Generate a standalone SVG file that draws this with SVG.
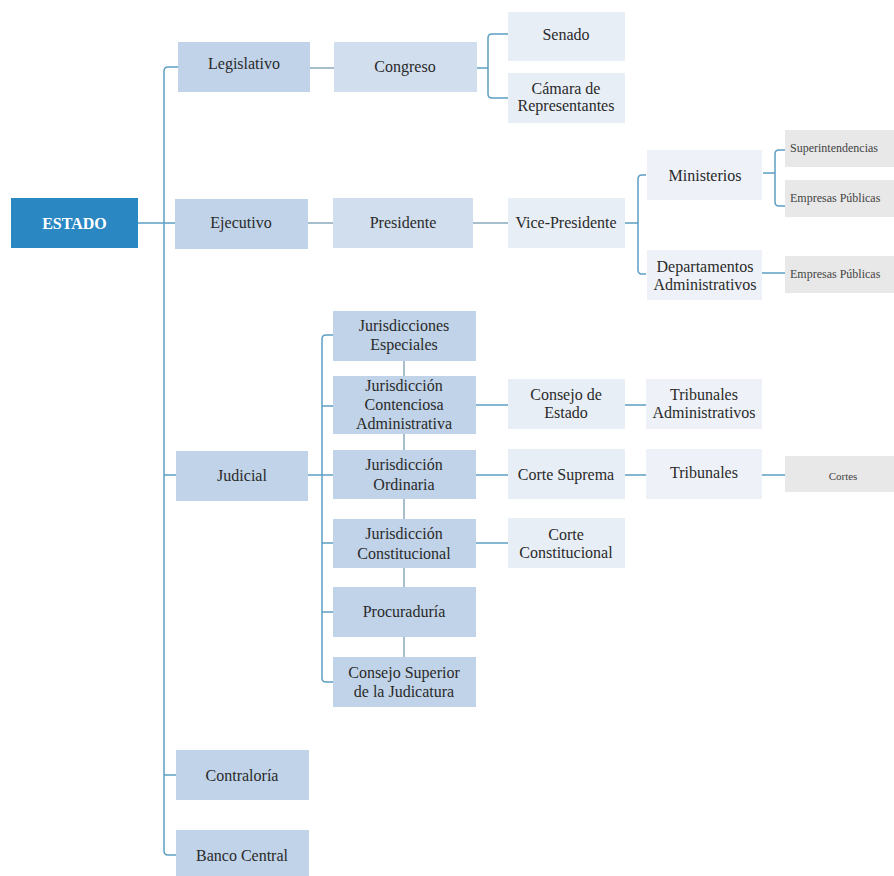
<svg xmlns="http://www.w3.org/2000/svg" width="894" height="876" viewBox="0 0 894 876">
<style>
text{font-family:"Liberation Serif","Times New Roman",Times,"DejaVu Serif","Noto Serif",serif;font-size:16px;fill:#2a2a2a;text-anchor:middle}
.sm{font-size:12px;text-anchor:start;fill:#444}
.cl{fill:none;stroke:#5c9fc2;stroke-width:1.5}
.cg{fill:none;stroke:#8aaabd;stroke-width:1.5}
.l1{fill:#c0d3e8}
.l2{fill:#d1deee}
.l3{fill:#e8eef6}
.l4{fill:#eef2f8}
.gr{fill:#e8e8e8}
</style>
<rect width="894" height="876" fill="#ffffff"/>
<g id="connectors">
<path class="cl" d="M178,67 H168 Q164,67 164,71 V851 Q164,855 168,855 H176"/>
<path class="cl" d="M138,223 H175 M164,475 H176 M164,775 H176"/>
<path class="cg" d="M310,68 H334 M308,223 H333 M473,223 H508"/>
<path class="cl" d="M477,68 H488 M508,34 H492 Q488,34 488,38 V94 Q488,98 492,98 H508"/>
<path class="cl" d="M625,223 H638 M646,175 H642 Q638,175 638,179 V270 Q638,274 642,274 H646"/>
<path class="cl" d="M763,173 H775 M785,150 H779 Q775,150 775,154 V202 Q775,206 779,206 H785 M762,273 H785"/>
<path class="cl" d="M308,475 H333 M333,335 H326 Q322,335 322,339 V678 Q322,682 326,682 H333 M322,406 H333 M322,543 H333 M322,612 H333"/>
<path class="cg" d="M404,361 V376 M404,434 V450 M404,499 V519 M404,568 V587 M404,637 V657"/>
<path class="cl" d="M476,405 H508 M625,405 H646 M476,475 H508 M625,475 H646 M762,475 H785 M476,543 H508"/>
</g>
<g id="estado"><rect x="11" y="198" width="127" height="50" fill="#2a87c2"/><text x="74.5" y="229" style="fill:#fff;font-weight:bold;font-size:16px">ESTADO</text></g>
<g id="legislativo"><rect class="l1" x="178" y="42" width="132" height="50"/><text x="244" y="69">Legislativo</text></g>
<g id="congreso"><rect class="l2" x="334" y="42" width="143" height="50"/><text x="405" y="72">Congreso</text></g>
<g id="senado"><rect class="l3" x="508" y="12" width="117" height="49"/><text x="566" y="40">Senado</text></g>
<g id="camara"><rect class="l3" x="508" y="73" width="117" height="50"/><text x="566" y="94">Cámara de</text><text x="566" y="111">Representantes</text></g>
<g id="ejecutivo"><rect class="l1" x="175" y="199" width="133" height="50"/><text x="241" y="228">Ejecutivo</text></g>
<g id="presidente"><rect class="l2" x="333" y="198" width="140" height="50"/><text x="403" y="228">Presidente</text></g>
<g id="vicepresidente"><rect class="l3" x="508" y="198" width="117" height="50"/><text x="566" y="228">Vice-Presidente</text></g>
<g id="ministerios"><rect class="l4" x="647" y="150" width="115" height="50"/><text x="705" y="181">Ministerios</text></g>
<g id="departamentos"><rect class="l4" x="647" y="250" width="115" height="50"/><text x="705" y="272">Departamentos</text><text x="705" y="290">Administrativos</text></g>
<g id="superintendencias"><rect class="gr" x="785" y="130" width="109" height="37"/><text class="sm" x="790" y="152">Superintendencias</text></g>
<g id="empresas1"><rect class="gr" x="785" y="180" width="109" height="37"/><text class="sm" x="790" y="202">Empresas Públicas</text></g>
<g id="empresas2"><rect class="gr" x="785" y="256" width="109" height="37"/><text class="sm" x="790" y="278">Empresas Públicas</text></g>
<g id="judicial"><rect class="l1" x="176" y="451" width="132" height="50"/><text x="242" y="481">Judicial</text></g>
<g id="especiales"><rect class="l1" x="333" y="311" width="143" height="50"/><text x="404" y="331">Jurisdicciones</text><text x="404" y="350">Especiales</text></g>
<g id="contenciosa"><rect class="l1" x="333" y="376" width="143" height="58"/><text x="404" y="391">Jurisdicción</text><text x="404" y="410">Contenciosa</text><text x="404" y="429">Administrativa</text></g>
<g id="ordinaria"><rect class="l1" x="333" y="450" width="143" height="49"/><text x="404" y="470">Jurisdicción</text><text x="404" y="490">Ordinaria</text></g>
<g id="constitucional"><rect class="l1" x="333" y="519" width="143" height="49"/><text x="404" y="539">Jurisdicción</text><text x="404" y="559">Constitucional</text></g>
<g id="procuraduria"><rect class="l1" x="333" y="587" width="143" height="50"/><text x="404" y="617">Procuraduría</text></g>
<g id="consejosuperior"><rect class="l1" x="333" y="657" width="143" height="50"/><text x="404" y="678">Consejo Superior</text><text x="404" y="697">de la Judicatura</text></g>
<g id="consejoestado"><rect class="l3" x="508" y="379" width="117" height="50"/><text x="566" y="400">Consejo de</text><text x="566" y="418">Estado</text></g>
<g id="tribunalesadmin"><rect class="l4" x="646" y="379" width="116" height="50"/><text x="704" y="400">Tribunales</text><text x="704" y="418">Administrativos</text></g>
<g id="cortesuprema"><rect class="l3" x="508" y="449" width="117" height="50"/><text x="566" y="480">Corte Suprema</text></g>
<g id="tribunales"><rect class="l4" x="646" y="449" width="116" height="50"/><text x="704" y="478">Tribunales</text></g>
<g id="cortes"><rect class="gr" x="785" y="456" width="109" height="36"/><text x="843" y="480" style="font-size:11px;fill:#444">Cortes</text></g>
<g id="corteconstitucional"><rect class="l3" x="508" y="518" width="117" height="50"/><text x="566" y="540">Corte</text><text x="566" y="558">Constitucional</text></g>
<g id="contraloria"><rect class="l1" x="176" y="750" width="133" height="50"/><text x="242" y="781">Contraloría</text></g>
<g id="bancocentral"><rect class="l1" x="176" y="830" width="133" height="46"/><text x="242" y="861">Banco Central</text></g>
</svg>
